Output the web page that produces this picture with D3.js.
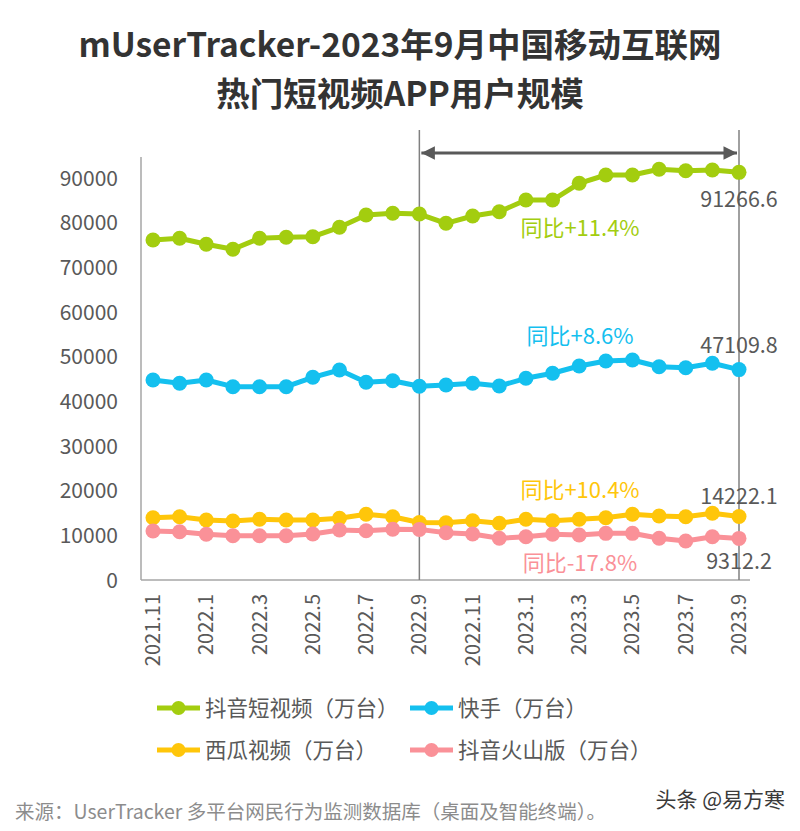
<!DOCTYPE html>
<html>
<head>
<meta charset="utf-8">
<script src="https://cdn.jsdelivr.net/npm/d3@7"></script>
<style>
  html, body { margin: 0; padding: 0; background: #fff; }
  svg { display: block; font-family: "Noto Sans CJK SC", "Noto Sans", sans-serif; }
</style>
</head>
<body>
<svg id="chart" width="800" height="831"></svg>
<script>
// ---------------- data ----------------
const months = ["2021.11","2021.12","2022.1","2022.2","2022.3","2022.4","2022.5","2022.6","2022.7","2022.8","2022.9","2022.10","2022.11","2022.12","2023.1","2023.2","2023.3","2023.4","2023.5","2023.6","2023.7","2023.8","2023.9"];
const tickLabels = ["2021.11","2022.1","2022.3","2022.5","2022.7","2022.9","2022.11","2023.1","2023.3","2023.5","2023.7","2023.9"];
const yTicks = [0,10000,20000,30000,40000,50000,60000,70000,80000,90000];

const douyin   = [76120,76500,75160,74040,76500,76720,76860,78960,81720,82100,81930,79860,81490,82460,85070,85070,88810,90670,90670,91950,91630,91790,91266.6];
const kuaishou = [44780,44040,44780,43280,43280,43280,45380,47010,44260,44620,43380,43660,44040,43430,45160,46280,47910,49030,49250,47750,47530,48520,47109.8];
const xigua    = [13950,14170,13430,13210,13590,13430,13430,13810,14710,14170,12880,12830,13280,12690,13590,13280,13590,13950,14710,14330,14170,14930,14222.1];
const huoshan  = [10970,10810,10230,9920,9920,9920,10300,11190,11040,11350,11330,10590,10300,9340,9690,10230,10070,10450,10450,9340,8730,9690,9312.2];

const seriesNames = ["抖音短视频（万台）","快手（万台）","西瓜视频（万台）","抖音火山版（万台）"];
const yoyLabels = ["同比+11.4%","同比+8.6%","同比+10.4%","同比-17.8%"];
const lastLabels = ["91266.6","47109.8","14222.1","9312.2"];
const refMonths = ["2022.9","2023.9"];

// ---------------- setup ----------------
const colors = ["#A3CD0F","#14C0EF","#FFC60A","#FA9198"];
const series = [douyin, kuaishou, xigua, huoshan].map((v, i) => ({ name: seriesNames[i], values: v, color: colors[i] }));

const svg = d3.select("#chart");
const x = d3.scalePoint().domain(months).range([153, 739]);
const y = d3.scaleLinear().domain([0, 90000]).range([580, 178]);

// title
const title = svg.append("g").attr("font-weight", "bold").attr("fill", "#333").attr("text-anchor", "middle");
title.append("text").attr("x", 400).attr("y", 57).attr("font-size", 33.5).text("mUserTracker-2023年9月中国移动互联网");
title.append("text").attr("x", 400).attr("y", 106).attr("font-size", 33.5).text("热门短视频APP用户规模");

// y axis labels
svg.append("g").selectAll("text").data(yTicks).join("text")
  .attr("x", 118).attr("y", d => y(d)).attr("dy", "0.36em")
  .attr("text-anchor", "end").attr("font-size", 21).attr("fill", "#595959")
  .text(d => d);

// axis lines
svg.append("line").attr("x1", 141).attr("x2", 141).attr("y1", 157).attr("y2", y(0))
  .attr("stroke", "#a6a6a6").attr("stroke-width", 1.5);
svg.append("line").attr("x1", 141).attr("x2", 750).attr("y1", y(0)).attr("y2", y(0))
  .attr("stroke", "#a6a6a6").attr("stroke-width", 1.5);

// reference vertical lines
svg.append("g").selectAll("line").data(refMonths).join("line")
  .attr("x1", d => x(d)).attr("x2", d => x(d)).attr("y1", 130).attr("y2", y(0))
  .attr("stroke", "#808080").attr("stroke-width", 1.5);

// double arrow
const defs = svg.append("defs");
defs.append("marker").attr("id", "arrowEnd").attr("viewBox", "0 0 10 10").attr("refX", 10).attr("refY", 5)
  .attr("markerWidth", 5).attr("markerHeight", 4.5).attr("markerUnits", "strokeWidth").attr("orient", "auto")
  .append("path").attr("d", "M0,0 L10,5 L0,10 Z").attr("fill", "#595959");
defs.append("marker").attr("id", "arrowStart").attr("viewBox", "0 0 10 10").attr("refX", 0).attr("refY", 5)
  .attr("markerWidth", 5).attr("markerHeight", 4.5).attr("markerUnits", "strokeWidth").attr("orient", "auto")
  .append("path").attr("d", "M10,0 L0,5 L10,10 Z").attr("fill", "#595959");
svg.append("line").attr("x1", x(refMonths[0]) + 2).attr("x2", x(refMonths[1]) - 2).attr("y1", 153).attr("y2", 153)
  .attr("stroke", "#595959").attr("stroke-width", 3)
  .attr("marker-start", "url(#arrowStart)").attr("marker-end", "url(#arrowEnd)");

// x tick labels (rotated)
svg.append("g").selectAll("text").data(tickLabels).join("text")
  .attr("transform", d => `translate(${x(d)},594) rotate(-90)`)
  .attr("dy", "0.35em").attr("text-anchor", "end").attr("font-size", 20).attr("fill", "#595959")
  .text(d => d);

// lines + points
const line = d3.line().x((d, i) => x(months[i])).y(d => y(d));
series.forEach(s => {
  const g = svg.append("g");
  g.append("path").attr("d", line(s.values)).attr("fill", "none")
    .attr("stroke", s.color).attr("stroke-width", 5).attr("stroke-linejoin", "round");
  g.selectAll("circle").data(s.values).join("circle")
    .attr("cx", (d, i) => x(months[i])).attr("cy", d => y(d)).attr("r", 7.5).attr("fill", s.color);
});

// YoY annotations
const yoyY = [236, 344, 498, 571];
svg.append("g").selectAll("text").data(yoyLabels).join("text")
  .attr("x", 580).attr("y", (d, i) => yoyY[i]).attr("text-anchor", "middle")
  .attr("font-size", 22).attr("fill", (d, i) => colors[i]).text(d => d);

// last-value labels
const lastOffset = [27, -24, -20, 23];
svg.append("g").selectAll("text").data(lastLabels).join("text")
  .attr("x", x(months[months.length - 1])).attr("y", (d, i) => y(series[i].values[series[i].values.length - 1]) + lastOffset[i])
  .attr("dy", "0.36em").attr("text-anchor", "middle").attr("font-size", 21.5).attr("fill", "#595959").text(d => d);

// legend
const legendPos = [[157, 708], [410, 708], [157, 750], [410, 750]];
const lg = svg.append("g").selectAll("g").data(series).join("g")
  .attr("transform", (d, i) => `translate(${legendPos[i][0]},${legendPos[i][1]})`);
lg.append("line").attr("x1", 0).attr("x2", 43).attr("y1", 0).attr("y2", 0).attr("stroke", d => d.color).attr("stroke-width", 5);
lg.append("circle").attr("cx", 21.5).attr("cy", 0).attr("r", 7).attr("fill", d => d.color);
lg.append("text").attr("x", 48).attr("y", 0).attr("dy", "0.36em").attr("font-size", 21.5).attr("fill", "#595959").text(d => d.name);

// footer
svg.append("text").attr("x", 15).attr("y", 819).attr("font-size", 19.5).attr("fill", "#8c8c8c")
  .text("来源：UserTracker 多平台网民行为监测数据库（桌面及智能终端）。");
svg.append("text").attr("x", 785).attr("y", 807).attr("text-anchor", "end").attr("font-size", 21).attr("fill", "#3a3a3a")
  .text("头条 @易方寒");
</script>
</body>
</html>
